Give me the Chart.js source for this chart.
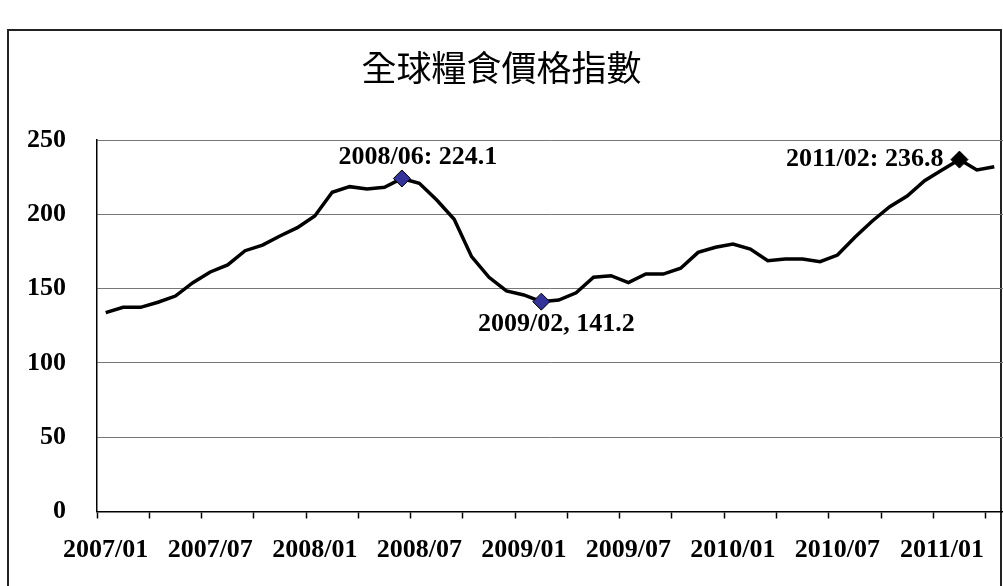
<!DOCTYPE html>
<html>
<head>
<meta charset="utf-8">
<script src="https://cdn.jsdelivr.net/npm/chart.js@4/dist/chart.umd.min.js"></script>
<style>
  html, body { margin: 0; padding: 0; background: #fff; overflow: hidden; }
  #wrap { width: 1003px; height: 586px; position: relative; }
</style>
</head>
<body>
<div id="wrap"><canvas id="c" width="1003" height="586"></canvas></div>
<script>
const chartTitle = '全球糧食價格指數';

const categories = [
  '2007/01','2007/02','2007/03','2007/04','2007/05','2007/06','2007/07','2007/08','2007/09','2007/10','2007/11','2007/12',
  '2008/01','2008/02','2008/03','2008/04','2008/05','2008/06','2008/07','2008/08','2008/09','2008/10','2008/11','2008/12',
  '2009/01','2009/02','2009/03','2009/04','2009/05','2009/06','2009/07','2009/08','2009/09','2009/10','2009/11','2009/12',
  '2010/01','2010/02','2010/03','2010/04','2010/05','2010/06','2010/07','2010/08','2010/09','2010/10','2010/11','2010/12',
  '2011/01','2011/02','2011/03','2011/04'
];

const foodPriceIndex = [
  133.8,137.4,137.4,140.8,145.0,154.0,161.2,165.9,175.5,179.3,185.4,191.0,
  198.9,214.8,218.6,217.0,218.2,224.1,220.9,209.6,196.6,171.5,157.6,148.4,
  145.7,141.2,142.3,147.2,157.6,158.7,154.0,159.8,159.8,163.7,174.4,177.8,
  180.0,176.6,168.8,169.9,169.9,168.1,172.6,184.5,195.5,205.1,212.3,222.6,
  229.8,236.8,229.8,232.0
];

const xTickLabels = ['2007/01','2007/07','2008/01','2008/07','2009/01','2009/07','2010/01','2010/07','2011/01'];
const yTickValues = [0, 50, 100, 150, 200, 250];

const markerCategories = ['2008/06', '2009/02', '2011/02'];
const markerColors = ['#333399', '#333399', '#000000'];
const markerTexts = ['2008/06: 224.1', '2009/02, 141.2', '2011/02: 236.8'];

const markerIdx = markerCategories.map(c => categories.indexOf(c));

const labelFont = 'bold 26px "Liberation Serif", "Times New Roman", serif';

const labelPlugin = {
  id: 'markerLabels',
  afterDatasetsDraw(chart) {
    const ctx = chart.ctx;
    const pts = chart.getDatasetMeta(0).data;
    ctx.save();
    ctx.font = labelFont;
    ctx.fillStyle = '#000';
    ctx.textBaseline = 'middle';
    const place = [
      { align: 'center', dx: 16, dy: -21 },
      { align: 'center', dx: 15, dy: 23 },
      { align: 'right', dx: -16, dy: 0 }
    ];
    markerIdx.forEach((idx, k) => {
      const p = pts[idx];
      ctx.textAlign = place[k].align;
      ctx.fillText(markerTexts[k], p.x + place[k].dx, p.y + place[k].dy);
    });
    ctx.restore();
  }
};

const framePlugin = {
  id: 'frame',
  beforeDraw(chart) {
    const ctx = chart.ctx;
    ctx.save();
    ctx.fillStyle = '#fff';
    ctx.fillRect(0, 0, chart.width, chart.height);
    ctx.strokeStyle = '#222';
    ctx.lineWidth = 2;
    ctx.strokeRect(8, 30, chart.width - 10, chart.height + 20);
    ctx.restore();
  }
};

new Chart(document.getElementById('c'), {
  type: 'line',
  data: {
    labels: categories,
    datasets: [{
      data: foodPriceIndex,
      borderColor: '#000',
      borderWidth: 3.5,
      tension: 0,
      fill: false,
      pointStyle: 'rectRot',
      pointRadius: ctx => markerIdx.includes(ctx.dataIndex) ? 8.5 : 0,
      pointHoverRadius: ctx => markerIdx.includes(ctx.dataIndex) ? 8.5 : 0,
      pointBackgroundColor: ctx => {
        const k = markerIdx.indexOf(ctx.dataIndex);
        return k >= 0 ? markerColors[k] : '#000';
      },
      pointBorderColor: '#000',
      pointBorderWidth: 1
    }]
  },
  options: {
    responsive: false,
    animation: false,
    events: [],
    layout: { padding: { left: 0, right: 0, top: 0, bottom: 0 } },
    plugins: {
      legend: { display: false },
      tooltip: { enabled: false },
      title: {
        display: true,
        text: chartTitle,
        color: '#000',
        font: { family: '"Noto Sans CJK TC", "Noto Sans CJK SC", sans-serif', size: 35, weight: 'normal' },
        padding: { top: 47, bottom: 51 }
      }
    },
    scales: {
      x: {
        type: 'category',
        offset: true,
        afterFit: s => { s.height = 74.5; s.paddingLeft = 0; s.paddingRight = 0; },
        border: { display: true, color: '#000', width: 1.5 },
        grid: {
          offset: true,
          drawOnChartArea: false,
          drawTicks: true,
          tickLength: 7,
          tickWidth: 1.5,
          tickColor: ctx => (ctx.index % 3 === 0 ? '#000' : 'rgba(0,0,0,0)')
        },
        ticks: {
          autoSkip: false,
          maxRotation: 0,
          minRotation: 0,
          padding: 16,
          color: '#000',
          font: { family: '"Liberation Serif", "Times New Roman", serif', size: 26, weight: 'bold' },
          callback: function(value) {
            const lab = this.getLabelForValue(value);
            return xTickLabels.includes(lab) ? lab : '';
          }
        }
      },
      y: {
        min: 0,
        max: 250,
        afterFit: s => { s.width = 97; s.paddingTop = 0; s.paddingBottom = 0; },
        afterBuildTicks: s => { s.ticks = yTickValues.map(v => ({ value: v })); },
        border: { display: true, color: '#000', width: 1.5 },
        grid: {
          color: '#777',
          lineWidth: 1,
          drawTicks: false
        },
        ticks: {
          padding: 31,
          color: '#000',
          font: { family: '"Liberation Serif", "Times New Roman", serif', size: 26, weight: 'bold' }
        }
      }
    }
  },
  plugins: [framePlugin, labelPlugin]
});
</script>
</body>
</html>
